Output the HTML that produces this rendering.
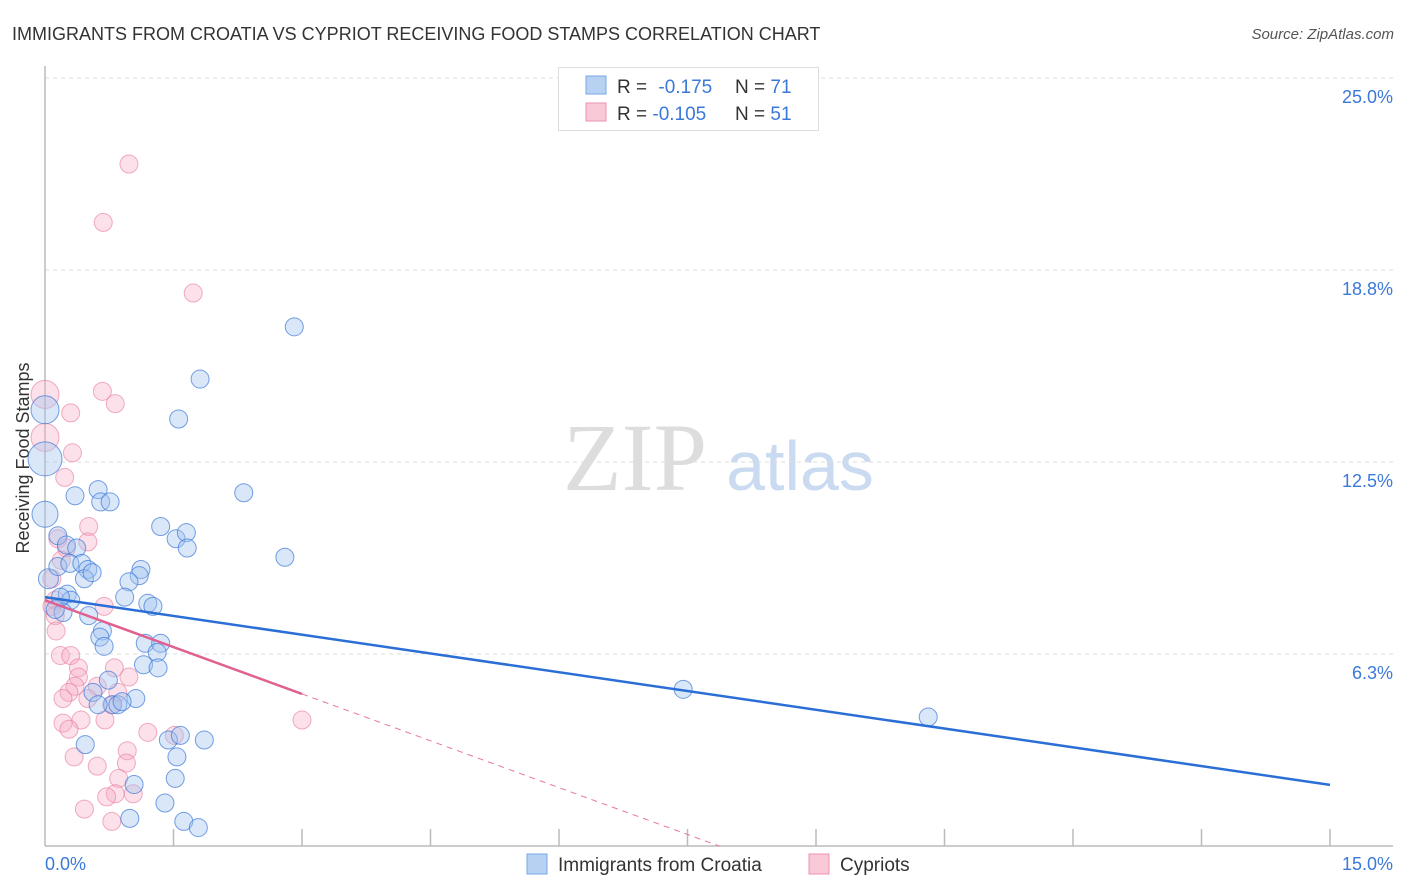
<!DOCTYPE html>
<html><head><meta charset="utf-8"><style>
body{margin:0;background:#fff;font-family:"Liberation Sans",sans-serif;}
svg{display:block}
</style></head><body>
<svg id="chart" width="1406" height="892" xmlns="http://www.w3.org/2000/svg">
<text x="12" y="40" font-size="18" fill="#333">IMMIGRANTS FROM CROATIA VS CYPRIOT RECEIVING FOOD STAMPS CORRELATION CHART</text>
<text x="1394" y="39" font-size="15" fill="#555" font-style="italic" text-anchor="end">Source: ZipAtlas.com</text>
<text x="29" y="458" font-size="18" fill="#333" text-anchor="middle" transform="rotate(-90 29 458)">Receiving Food Stamps</text>
<g>
<text x="635" y="490" font-size="96" font-family="Liberation Serif,serif" fill="#ddd" text-anchor="middle">ZIP</text>
<text x="800" y="490" font-size="70" fill="#c9daf1" text-anchor="middle">atlas</text>
</g>
<g id="grid"></g>
<g id="axes"></g>
<g id="pts"></g>
<g id="lines"></g>
<g>
<rect x="558.5" y="67.5" width="260" height="63" fill="#fff" stroke="#ddd"/>
<rect x="586" y="76" width="20" height="18" fill="#b7d1f3" stroke="#7aa6e3"/>
<rect x="586" y="103" width="20" height="18" fill="#f9c9d7" stroke="#ee93ad"/>
<text x="617" y="93" font-size="19" fill="#333">R = <tspan fill="#3b78d8" dx="6">-0.175</tspan></text>
<text x="735" y="93" font-size="19" fill="#333">N = <tspan fill="#3b78d8">71</tspan></text>
<text x="617" y="120" font-size="19" fill="#333">R = <tspan fill="#3b78d8">-0.105</tspan></text>
<text x="735" y="120" font-size="19" fill="#333">N = <tspan fill="#3b78d8">51</tspan></text>
</g>
<g>
<rect x="527" y="854" width="20" height="20" fill="#b7d1f3" stroke="#7aa6e3"/>
<text x="558" y="871" font-size="19" fill="#333">Immigrants from Croatia</text>
<rect x="809" y="854" width="20" height="20" fill="#f9c9d7" stroke="#ee93ad"/>
<text x="840" y="871" font-size="19" fill="#333">Cypriots</text>
</g>
</svg>
<script>
const yTicks=[6.25,12.5,18.75,25];
const yTickLabels=["6.3%","12.5%","18.8%","25.0%"];
const xTickCount=10;
const blueX=[0,0,0,0.04,2.91,1.81,1.56,2.32,0.35,0.62,0.65,0.76,1.35,1.53,1.65,1.66,2.80,0.15,0.25,0.37,0.15,0.29,0.43,0.50,0.46,0.55,1.12,1.10,0.98,0.93,1.20,1.26,0.26,0.30,0.21,0.51,0.67,0.64,0.69,1.17,1.35,1.31,1.15,1.32,0.74,0.56,1.06,0.79,0.85,0.90,0.62,7.45,10.31,0.47,1.44,1.58,1.86,1.54,1.52,1.04,1.40,0.99,1.62,1.79,0.12,0.18];
const blueY=[14.2,12.6,10.8,8.7,16.9,15.2,13.9,11.5,11.4,11.6,11.2,11.2,10.4,10.0,10.2,9.7,9.4,10.1,9.8,9.7,9.1,9.2,9.2,9.0,8.7,8.9,9.0,8.8,8.6,8.1,7.9,7.8,8.2,8.0,7.6,7.5,7.0,6.8,6.5,6.6,6.6,6.3,5.9,5.8,5.4,5.0,4.8,4.6,4.6,4.7,4.6,5.1,4.2,3.3,3.45,3.6,3.45,2.9,2.2,2.0,1.4,0.9,0.8,0.6,7.7,8.1];
const blueR=[14,17,13,10,9,9,9,9,9,9,9,9,9,9,9,9,9,9,9,9,9,9,9,9,9,9,9,9,9,9,9,9,9,9,9,9,9,9,9,9,9,9,9,9,9,9,9,9,9,9,9,9,9,9,9,9,9,9,9,9,9,9,9,9,9,9];
const pinkX=[0,0,0.98,0.68,1.73,0.67,0.82,0.30,0.32,0.23,0.51,0.50,0.15,0.25,0.19,0.08,0.12,0.08,0.69,0.12,0.13,0.18,0.30,0.39,0.39,0.35,0.28,0.21,0.61,0.50,0.81,0.98,0.85,0.78,0.21,0.42,0.28,0.70,1.20,1.51,3.0,0.96,0.95,0.61,0.34,0.86,0.82,0.72,1.03,0.46,0.78];
const pinkY=[14.7,13.3,22.2,20.3,18.0,14.8,14.4,14.1,12.8,12.0,10.4,9.9,10.0,9.7,9.3,8.7,8.0,7.8,7.8,7.5,7.0,6.2,6.2,5.8,5.5,5.2,5.0,4.8,5.2,4.8,5.8,5.5,5.0,4.6,4.0,4.1,3.8,4.1,3.7,3.6,4.1,3.1,2.7,2.6,2.9,2.2,1.7,1.6,1.7,1.2,0.8];
const pinkR=[14,14,9,9,9,9,9,9,9,9,9,9,9,9,9,9,9,9,9,9,9,9,9,9,9,9,9,9,9,9,9,9,9,9,9,9,9,9,9,9,9,9,9,9,9,9,9,9,9,9,9];
const blueTrend=[8.1,1.99];
const pinkTrend=[8.0,4.95];
const pinkTrendEnd=3;

const NS="http://www.w3.org/2000/svg";
const X0=45,X1=1330,Y0=846,Y1=78,XMAX=15,YMAX=25;
const sx=v=>X0+(X1-X0)*v/XMAX;
const sy=v=>Y0-(Y0-Y1)*v/YMAX;
function mk(tag,attrs,parent){const e=document.createElementNS(NS,tag);for(const k in attrs)e.setAttribute(k,attrs[k]);parent.appendChild(e);return e;}
const grid=document.getElementById('grid'),axes=document.getElementById('axes'),pts=document.getElementById('pts'),lines=document.getElementById('lines');
yTicks.forEach((t,i)=>{
 const l=mk('line',{x1:X0,x2:1393,y1:sy(t),y2:sy(t),stroke:'#ddd','stroke-dasharray':'4,4'},grid);
 
 
 const tx=mk('text',{x:1393,y:sy(t)+25,'font-size':18,fill:'#3b78d8','text-anchor':'end'},axes);
 tx.textContent=yTickLabels[i];
 
 
});
const ya=mk('line',{x1:X0,x2:X0,y1:66,y2:Y0,stroke:'#bbb','stroke-width':1.5},axes);


const xa=mk('line',{x1:X0,x2:1393,y1:Y0,y2:Y0,stroke:'#bbb','stroke-width':1.5},axes);


for(let i=1;i<=xTickCount;i++){
 const v=XMAX*i/xTickCount;
 const t=mk('line',{x1:sx(v),x2:sx(v),y1:829,y2:Y0,stroke:'#bbb','stroke-width':1.5},axes);
 
 
}
const xl0=mk('text',{x:45,y:870,'font-size':18,fill:'#3b78d8'},axes);xl0.textContent='0.0%';


const xl1=mk('text',{x:1393,y:870,'font-size':18,fill:'#3b78d8','text-anchor':'end'},axes);xl1.textContent='15.0%';


pinkX.forEach((x,i)=>{
 const c=mk('circle',{cx:sx(x),cy:sy(pinkY[i]),r:pinkR[i],fill:'rgba(246,170,195,0.35)',stroke:'rgba(232,120,155,0.6)','stroke-width':1},pts);
 
 
});
blueX.forEach((x,i)=>{
 const c=mk('circle',{cx:sx(x),cy:sy(blueY[i]),r:blueR[i],fill:'rgba(160,195,240,0.4)',stroke:'rgba(60,120,215,0.7)','stroke-width':1},pts);
 
 
});
const bl=mk('line',{x1:sx(0),y1:sy(blueTrend[0]),x2:sx(XMAX),y2:sy(blueTrend[1]),stroke:'#2b6fd6','stroke-width':2.5},lines);


const slope=(pinkTrend[1]-pinkTrend[0])/pinkTrendEnd;
const xz=-pinkTrend[0]/slope;
const pd=mk('line',{x1:sx(pinkTrendEnd),y1:sy(pinkTrend[1]),x2:sx(xz),y2:sy(0),stroke:'#e8799b','stroke-width':1,'stroke-dasharray':'6,5'},lines);


const pl=mk('line',{x1:sx(0),y1:sy(pinkTrend[0]),x2:sx(pinkTrendEnd),y2:sy(pinkTrend[1]),stroke:'#e06090','stroke-width':2.5},lines);


</script>
</body></html>
